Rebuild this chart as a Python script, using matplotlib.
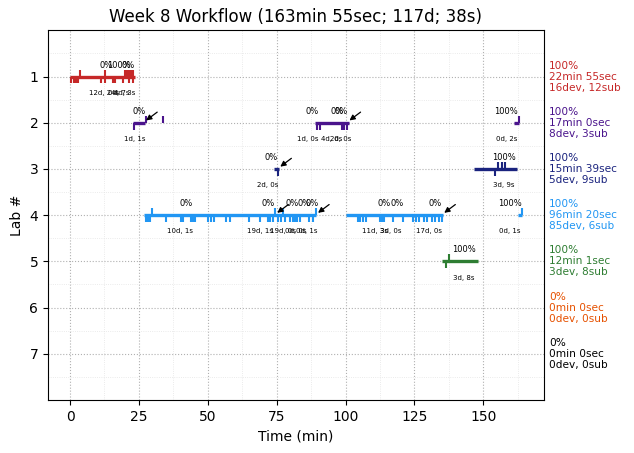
#!/usr/bin/env python3
"""
Week 8 workflow timeline: one row per lab, thick bars for work sessions,
ticks for devices (down) and submissions (up), score / delay labels.

Usage:
  python plot.py   ->  out.png
"""

import matplotlib
matplotlib.use("Agg")
import matplotlib.pyplot as plt
from matplotlib.ticker import AutoMinorLocator

TITLE = "Week 8 Workflow (163min 55sec; 117d; 38s)"

lab_ids = [1, 2, 3, 4, 5, 6, 7]
lab_colors = ["#c62828", "#4a148c", "#1a237e", "#2196f3", "#2e7d32", "#e65100", "#000000"]

# per-lab sessions (start, end) in minutes
lab1_segments = [(0.0, 23.5)]
lab2_segments = [(23.0, 27.3), (88.8, 101.2), (161.2, 163.0)]
lab3_segments = [(74.0, 76.0), (146.7, 162.2)]
lab4_segments = [(26.8, 89.4), (100.2, 135.5), (162.4, 164.2)]
lab5_segments = [(135.0, 148.0)]

# device events (ticks below the bar)
lab1_down = [0.5, 1.3, 2.2, 2.9, 11.3, 12.8, 15.6, 16.0, 16.4, 19.1, 21.3, 22.7]
lab2_down = [23.3, 89.7, 90.6, 98.7, 99.6, 100.6]
lab3_down = [75.3, 154.3]
lab4_down = [27.5, 28.4, 29.2, 34.8, 40.1, 41.0, 43.8, 44.5, 45.3, 50.1, 51.1,
             52.2, 56.5, 58.0, 64.9, 68.8, 71.9, 72.7, 73.7, 75.4, 76.7, 77.9,
             80.0, 80.8, 81.6, 82.5, 83.3, 86.6, 88.2, 104.5, 105.4, 106.3,
             107.5, 112.6, 113.3, 114.1, 117.1, 120.8, 124.6, 125.6, 126.8,
             128.3, 129.5, 131.4, 132.6, 134.0, 135.0]
lab5_down = [136.5]

# submissions (ticks above the bar)
lab1_up = [3.7, 12.6, 20.0, 20.6, 21.2, 21.8, 22.4, 23.0]
lab2_up = [27.4, 33.8, 163.0]
lab3_up = [155.4, 156.6, 158.0]
lab4_up = [29.8, 74.5, 77.3, 89.4, 164.0]
lab5_up = [137.4]

# score labels above the bar
lab1_top = [(13.0, "0%"), (17.6, "100%"), (21.2, "0%")]
lab2_top = [(25.0, "0%"), (87.7, "0%"), (97.0, "0%"), (98.4, "0%"), (158.3, "100%")]
lab3_top = [(72.8, "0%"), (157.6, "100%")]
lab4_top = [(42.0, "0%"), (71.9, "0%"), (80.6, "0%"), (84.8, "0%"), (87.9, "0%"),
            (113.9, "0%"), (118.6, "0%"), (132.6, "0%"), (159.7, "100%")]
lab5_top = [(142.9, "100%")]

# delay labels below the bar
lab1_bottom = [(12.3, "12d, 24s"), (17.5, "0d, 7s"), (19.8, "4d, 3s")]
lab2_bottom = [(23.5, "1d, 1s"), (86.2, "1d, 0s"), (95.0, "4d, 0s"), (98.3, "2d, 0s"), (158.3, "0d, 2s")]
lab3_bottom = [(71.7, "2d, 0s"), (157.3, "3d, 9s")]
lab4_bottom = [(39.9, "10d, 1s"), (68.8, "19d, 1s"), (77.3, "19d, 0s"), (82.0, "0d, 0s"),
               (86.0, "0d, 1s"), (110.5, "11d, 3s"), (116.5, "3d, 0s"), (130.4, "17d, 0s"),
               (159.7, "0d, 1s")]
lab5_bottom = [(142.9, "3d, 8s")]

# arrows marking stalls
lab2_arrows = [27.6, 101.4]
lab3_arrows = [76.3]
lab4_arrows = [75.2, 90.0, 135.8]

summary_pct = ["100%", "100%", "100%", "100%", "100%", "0%", "0%"]
summary_time = ["22min 55sec", "17min 0sec", "15min 39sec", "96min 20sec",
                "12min 1sec", "0min 0sec", "0min 0sec"]
summary_work = ["16dev, 12sub", "8dev, 3sub", "5dev, 9sub", "85dev, 6sub",
                "3dev, 8sub", "0dev, 0sub", "0dev, 0sub"]


def main():
    labs = {
        1: (lab1_segments, lab1_down, lab1_up, lab1_top, lab1_bottom, []),
        2: (lab2_segments, lab2_down, lab2_up, lab2_top, lab2_bottom, lab2_arrows),
        3: (lab3_segments, lab3_down, lab3_up, lab3_top, lab3_bottom, lab3_arrows),
        4: (lab4_segments, lab4_down, lab4_up, lab4_top, lab4_bottom, lab4_arrows),
        5: (lab5_segments, lab5_down, lab5_up, lab5_top, lab5_bottom, []),
    }

    fig = plt.figure(figsize=(6.34, 4.53), dpi=100)
    ax = fig.add_axes([0.0757, 0.117, 0.7823, 0.816])

    for lab, (segs, down, up, top, bottom, arrows) in labs.items():
        c = lab_colors[lab - 1]
        for s, e in segs:
            ax.plot([s, e], [lab, lab], color=c, lw=2.4, solid_capstyle="butt", zorder=3)
        ax.vlines(down, lab, lab + 0.15, color=c, lw=1.5, zorder=3)
        ax.vlines(up, lab, lab - 0.15, color=c, lw=1.5, zorder=3)
        for x, t in top:
            ax.text(x, lab - 0.25, t, fontsize=6, ha="center", va="center")
        for x, t in bottom:
            ax.text(x, lab + 0.35, t, fontsize=5, ha="center", va="center")
        for x in arrows:
            ax.annotate("", xy=(x, lab - 0.05), xytext=(8, 6), textcoords="offset points",
                        arrowprops=dict(arrowstyle="-|>", color="black", lw=0.9,
                                        mutation_scale=8, shrinkA=0, shrinkB=0))

    # per-lab summary to the right of the axes
    for i, lab in enumerate(lab_ids):
        txt = f"{summary_pct[i]}\n{summary_time[i]}\n{summary_work[i]}"
        ax.text(1.01, lab, txt, transform=ax.get_yaxis_transform(), fontsize=7.6,
                color=lab_colors[i], ha="left", va="center", linespacing=1.12)

    ax.set_xlim(-8, 172)
    ax.set_ylim(8, 0)
    ax.set_yticks(lab_ids)
    ax.set_xticks([0, 25, 50, 75, 100, 125, 150])
    ax.xaxis.set_minor_locator(AutoMinorLocator(2))
    ax.yaxis.set_minor_locator(AutoMinorLocator(2))
    ax.tick_params(which="minor", length=0)
    ax.grid(which="major", linestyle=":", color="#b0b0b0", lw=0.8)
    ax.grid(which="minor", linestyle=":", color="#e4e4e4", lw=0.6)
    ax.set_axisbelow(True)

    ax.set_title(TITLE)
    ax.set_xlabel("Time (min)")
    ax.set_ylabel("Lab #")

    fig.savefig("out.png", dpi=100)
    plt.close(fig)


if __name__ == "__main__":
    main()
